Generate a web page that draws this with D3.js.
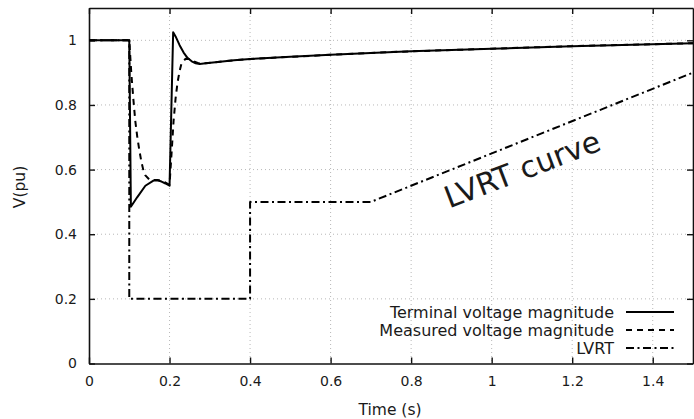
<!DOCTYPE html>
<html><head><meta charset="utf-8">
<script src="https://cdn.jsdelivr.net/npm/d3@7"></script>
<style>
html,body{margin:0;padding:0;background:#fff;}
svg{display:block;}
text{font-family:"DejaVu Sans",sans-serif;fill:#1a1a1a;}
</style></head>
<body>
<svg id="chart" width="694" height="419"></svg>
<script>
// ---- data ----
const terminalT = [0,0.1,0.104,0.12,0.14,0.16,0.17,0.18,0.19,0.2,0.209,0.215,0.225,0.235,0.245,0.255,0.265,0.275,0.29,0.32,0.36,0.4,0.5,0.6,0.7,0.8,0.9,1.0,1.1,1.2,1.3,1.4,1.5];
const terminalV = [1,1,0.485,0.515,0.55,0.566,0.567,0.563,0.557,0.55,1.025,1.012,0.985,0.962,0.945,0.935,0.929,0.927,0.929,0.933,0.938,0.942,0.949,0.955,0.961,0.966,0.970,0.974,0.978,0.982,0.985,0.988,0.991];
const measuredT = [0,0.1,0.105,0.11,0.115,0.12,0.125,0.13,0.135,0.14,0.15,0.16,0.17,0.18,0.19,0.2,0.205,0.21,0.215,0.22,0.225,0.23,0.24,0.25,0.26,0.27,0.28,0.29,0.32,0.36,0.4,0.5,0.6,0.7,0.8,0.9,1.0,1.1,1.2,1.3,1.4,1.5];
const measuredV = [1,1,0.9,0.82,0.75,0.7,0.66,0.625,0.598,0.582,0.569,0.568,0.568,0.565,0.56,0.553,0.65,0.75,0.82,0.87,0.905,0.93,0.943,0.942,0.935,0.93,0.928,0.929,0.933,0.938,0.942,0.949,0.955,0.961,0.966,0.970,0.974,0.978,0.982,0.985,0.988,0.991];
const lvrtT = [0,0.1,0.1,0.4,0.4,0.7,1.5];
const lvrtV = [1,1,0.2,0.2,0.5,0.5,0.9];
const xTicks = [0,0.2,0.4,0.6,0.8,1,1.2,1.4];
const yTicks = [0,0.2,0.4,0.6,0.8,1];
const seriesNames = ["Terminal voltage magnitude","Measured voltage magnitude","LVRT"];

// ---- layout ----
const L = 89, R = 693, T = 8, B = 363.5;
const svg = d3.select("#chart");
const x = d3.scaleLinear().domain([0,1.5]).range([L,R]);
const y = d3.scaleLinear().domain([0,1.1]).range([B,T]);

// grid
const grid = svg.append("g").attr("stroke","#b8b8b8").attr("stroke-width",1).attr("stroke-dasharray","1,3");
xTicks.filter(d=>d>0).forEach(d=>grid.append("line").attr("x1",x(d)).attr("x2",x(d)).attr("y1",T).attr("y2",B));
yTicks.filter(d=>d>0).forEach(d=>grid.append("line").attr("x1",L).attr("x2",R).attr("y1",y(d)).attr("y2",y(d)));

// axes
const fmt = d=>d3.format("")(d);
const xb = svg.append("g").attr("transform",`translate(0,${B})`).call(d3.axisBottom(x).tickValues(xTicks).tickSizeInner(-6).tickSizeOuter(0).tickPadding(13).tickFormat(fmt));
const xt = svg.append("g").attr("transform",`translate(0,${T})`).call(d3.axisTop(x).tickValues(xTicks).tickSizeInner(-6).tickSizeOuter(0).tickFormat(""));
const yl = svg.append("g").attr("transform",`translate(${L},0)`).call(d3.axisLeft(y).tickValues(yTicks).tickSizeInner(-6).tickSizeOuter(0).tickPadding(12).tickFormat(fmt));
const yr = svg.append("g").attr("transform",`translate(${R},0)`).call(d3.axisRight(y).tickValues(yTicks).tickSizeInner(-6).tickSizeOuter(0).tickFormat(""));
[xb,xt,yl,yr].forEach(g=>{
  g.selectAll("path").attr("stroke","#111").attr("stroke-width",1.6);
  g.selectAll("line").attr("stroke","#111").attr("stroke-width",1.4);
  g.selectAll("text").attr("font-size",14).attr("font-family","DejaVu Sans").attr("fill","#1a1a1a");
});

// titles
svg.append("text").attr("x",390).attr("y",415).attr("text-anchor","middle").attr("font-size",15.5).text("Time (s)");
svg.append("text").attr("transform","translate(25,187) rotate(-90)").attr("text-anchor","middle").attr("font-size",15.5).text("V(pu)");

// lines
const mk = (ts,vs)=>ts.map((t,i)=>[t,vs[i]]);
const line = d3.line().x(d=>x(d[0])).y(d=>y(d[1]));
const styles = [
  {data:mk(terminalT,terminalV), dash:null},
  {data:mk(measuredT,measuredV), dash:"6,5"},
  {data:mk(lvrtT,lvrtV), dash:"8,3.5,2,3.5"}
];
const plot = svg.append("g");
[2,1,0].forEach(i=>{
  plot.append("path").attr("d",line(styles[i].data)).attr("fill","none").attr("stroke","#000")
    .attr("stroke-width",2).attr("stroke-dasharray",styles[i].dash).attr("stroke-linejoin","round");
});

// legend
const legY = [312,330,348];
seriesNames.forEach((n,i)=>{
  svg.append("text").attr("x",614).attr("y",legY[i]).attr("dy","0.35em").attr("text-anchor","end").attr("font-size",16).text(n);
  svg.append("line").attr("x1",626).attr("x2",674).attr("y1",legY[i]).attr("y2",legY[i]).attr("stroke","#000").attr("stroke-width",2).attr("stroke-dasharray",styles[i].dash);
});

// annotation
svg.append("text").attr("transform","translate(526,179) rotate(-21)").attr("text-anchor","middle")
  .attr("font-family","Lato, 'Open Sans', sans-serif").attr("font-size",30).attr("fill","#000").text("LVRT curve");
</script>
</body></html>
